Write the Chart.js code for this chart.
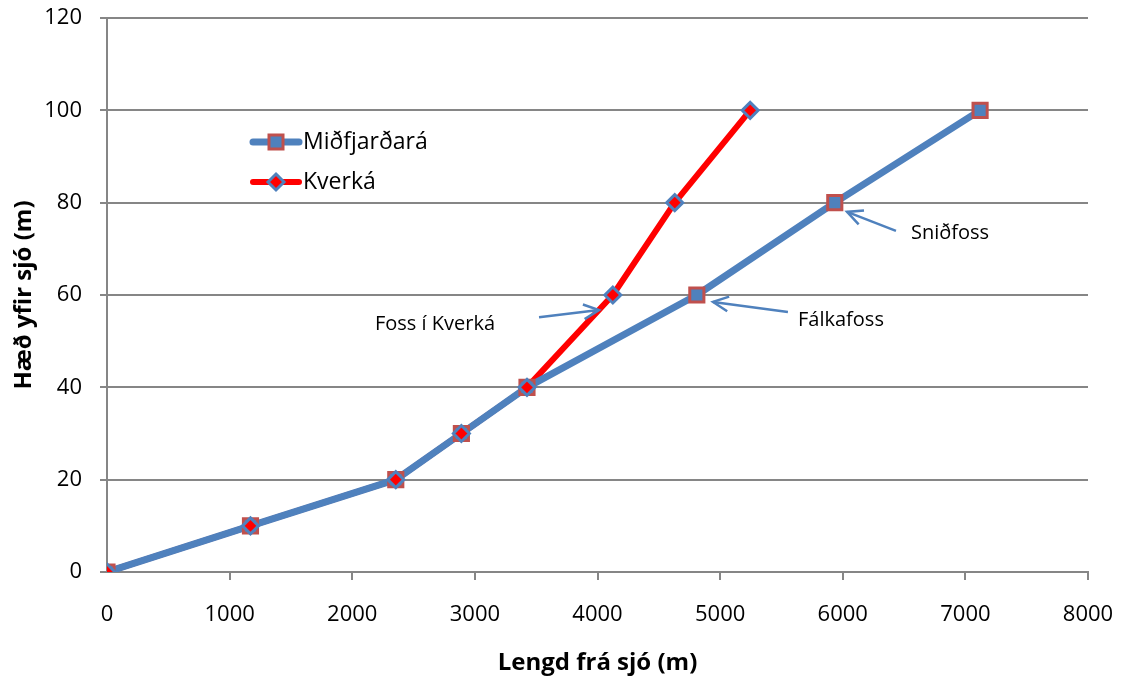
<!DOCTYPE html>
<html>
<head>
<meta charset="utf-8">
<script src="https://cdn.jsdelivr.net/npm/chart.js@4/dist/chart.umd.min.js"></script>
<style>
  html, body { margin: 0; padding: 0; background: #ffffff; }
  #wrap { width: 1121px; height: 686px; }
</style>
</head>
<body>
<div id="wrap"><canvas id="c" width="1121" height="686"></canvas></div>
<script>
// ---- Data ----
const midX = [0, 1170, 2355, 2890, 3425, 4810, 5935, 7120];
const midY = [0, 10, 20, 30, 40, 60, 80, 100];
const kvX  = [0, 1170, 2355, 2890, 3425, 4125, 4630, 5245];
const kvY  = [0, 10, 20, 30, 40, 60, 80, 100];
const seriesNames = ['Miðfjarðará', 'Kverká'];
const xTitle = 'Lengd frá sjó (m)';
const yTitle = 'Hæð yfir sjó (m)';
// annotations: label, text anchor (data), arrow tail (data), arrow tip (data)
const annLabels = ['Foss í Kverká', 'Fálkafoss', 'Sniðfoss'];
const annText   = [[2185, 53.7], [5635, 54.6], [6557, 73.4]];
const annTail   = [[3523, 55.2], [5553, 56.3], [6434, 73.9]];
const annTip    = [[4012, 56.75], [4942, 58.5], [6035, 78.0]];

const BLUE = '#4F81BD', DRED = '#C0504D', RED = '#FF0000', GRID = '#868686';
const FONT = '"Open Sans", "DejaVu Sans", sans-serif';

const toPts = (xs, ys) => xs.map((x, i) => ({x: x, y: ys[i]}));

function drawSquare(ctx, x, y) {
  ctx.save();
  ctx.fillStyle = BLUE; ctx.strokeStyle = DRED; ctx.lineWidth = 3;
  ctx.beginPath(); ctx.rect(x - 7, y - 7, 14, 14); ctx.fill(); ctx.stroke();
  ctx.restore();
}
function drawDiamond(ctx, x, y) {
  ctx.save();
  ctx.fillStyle = RED; ctx.strokeStyle = BLUE; ctx.lineWidth = 3;
  ctx.beginPath(); ctx.moveTo(x, y - 8); ctx.lineTo(x + 8, y); ctx.lineTo(x, y + 8); ctx.lineTo(x - 8, y); ctx.closePath();
  ctx.fill(); ctx.stroke();
  ctx.restore();
}

const decor = {
  id: 'decor',
  afterDatasetsDraw(chart, args, opts) {
    const ctx = chart.ctx;
    const xs = chart.scales.x, ys = chart.scales.y;
    // legend
    const lg = opts.legend;
    ctx.save();
    ctx.lineCap = 'round';
    [[BLUE, 7, drawSquare], [RED, 6, drawDiamond]].forEach((s, i) => {
      const y = lg.y + i * lg.gap;
      ctx.strokeStyle = s[0]; ctx.lineWidth = s[1];
      ctx.beginPath(); ctx.moveTo(lg.x, y); ctx.lineTo(lg.x + lg.len, y); ctx.stroke();
      s[2](ctx, lg.x + lg.len / 2, y);
      ctx.fillStyle = '#000'; ctx.font = '23px ' + FONT; ctx.textBaseline = 'middle'; ctx.textAlign = 'left';
      ctx.fillText(seriesNames[i], lg.x + lg.len + 4, y);
    });
    // annotations
    ctx.font = '20px ' + FONT; ctx.fillStyle = '#000'; ctx.textBaseline = 'middle'; ctx.textAlign = 'left';
    ctx.strokeStyle = BLUE; ctx.lineWidth = 2.5; ctx.lineCap = 'butt';
    annLabels.forEach((lab, i) => {
      ctx.fillText(lab, xs.getPixelForValue(annText[i][0]), ys.getPixelForValue(annText[i][1]));
      const x1 = xs.getPixelForValue(annTail[i][0]), y1 = ys.getPixelForValue(annTail[i][1]);
      const x2 = xs.getPixelForValue(annTip[i][0]), y2 = ys.getPixelForValue(annTip[i][1]);
      ctx.beginPath(); ctx.moveTo(x1, y1); ctx.lineTo(x2, y2); ctx.stroke();
      const a = Math.atan2(y2 - y1, x2 - x1), L = 17, w = 0.45;
      ctx.beginPath();
      ctx.moveTo(x2 - L * Math.cos(a - w), y2 - L * Math.sin(a - w));
      ctx.lineTo(x2, y2);
      ctx.lineTo(x2 - L * Math.cos(a + w), y2 - L * Math.sin(a + w));
      ctx.stroke();
    });
    ctx.restore();
  }
};

new Chart(document.getElementById('c'), {
  type: 'scatter',
  data: {
    datasets: [
      { // Kverká markers on top
        label: seriesNames[1] + ' markers', data: toPts(kvX, kvY), showLine: false, order: 0,
        pointStyle: 'rectRot', pointRadius: 8, pointHoverRadius: 8,
        pointBackgroundColor: RED, pointBorderColor: BLUE, pointBorderWidth: 3
      },
      {
        label: seriesNames[0], data: toPts(midX, midY), showLine: true, order: 1,
        borderColor: BLUE, borderWidth: 7, borderJoinStyle: 'round', borderCapStyle: 'round',
        pointStyle: 'rect', pointRadius: 10, pointHoverRadius: 10,
        pointBackgroundColor: BLUE, pointBorderColor: DRED, pointBorderWidth: 3
      },
      { // Kverká line underneath
        label: seriesNames[1], data: toPts(kvX, kvY), showLine: true, order: 2,
        borderColor: RED, borderWidth: 6, borderJoinStyle: 'round', borderCapStyle: 'round',
        pointRadius: 0, pointHoverRadius: 0
      }
    ]
  },
  options: {
    responsive: false,
    animation: false,
    events: [],
    layout: { padding: { left: 0, top: 18, right: 33, bottom: 0 } },
    plugins: {
      legend: { display: false },
      tooltip: { enabled: false },
      decor: { legend: { x: 253, y: 142, gap: 40, len: 46 } }
    },
    scales: {
      x: {
        type: 'linear', min: 0, max: 8000,
        afterFit(s) { s.height = 114; s.paddingLeft = 0; s.paddingRight = 0; },
        ticks: { stepSize: 1000, color: '#000', font: { family: FONT, size: 22 }, padding: 22, maxRotation: 0,
                 callback: v => String(v) },
        grid: { drawOnChartArea: false, drawTicks: true, tickLength: 8, lineWidth: 2,
                color: c => (c.tick && c.tick.value === 0) ? 'rgba(0,0,0,0)' : GRID },
        border: { display: true, color: GRID, width: 2 },
        title: { display: true, text: xTitle, color: '#000', font: { family: FONT, size: 24, weight: 'bold' }, padding: { top: 0, bottom: 8 } }
      },
      y: {
        type: 'linear', min: 0, max: 120,
        afterFit(s) { s.width = 107; s.paddingTop = 0; s.paddingBottom = 0; },
        ticks: { stepSize: 20, color: '#000', font: { family: FONT, size: 22 }, padding: 18,
                 callback: v => String(v) },
        grid: { drawTicks: true, tickLength: 7, color: GRID, lineWidth: 2 },
        border: { display: true, color: GRID, width: 2 },
        title: { display: true, text: yTitle, color: '#000', font: { family: FONT, size: 24, weight: 'bold' }, padding: { top: 10, bottom: 0 } }
      }
    }
  },
  plugins: [decor]
});
</script>
</body>
</html>
